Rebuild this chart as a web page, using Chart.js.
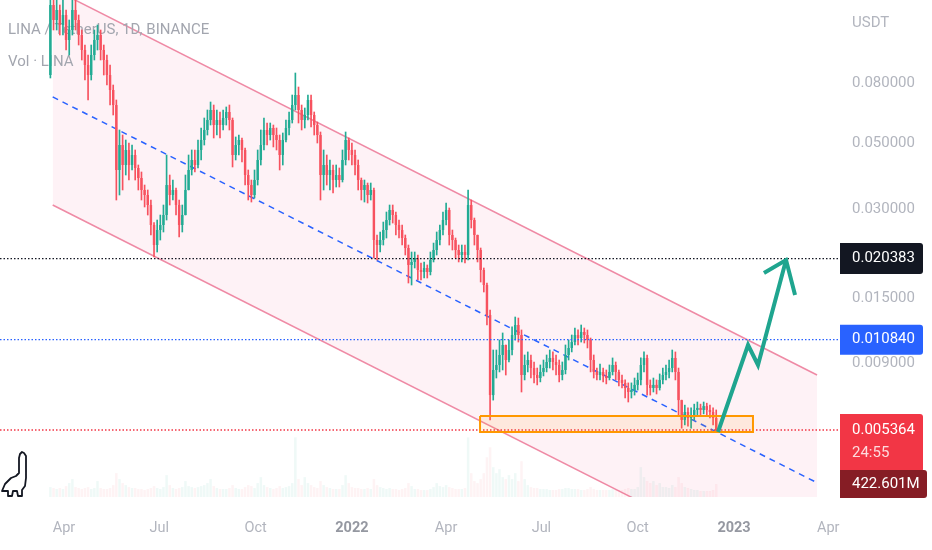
<!DOCTYPE html>
<html><head><meta charset="utf-8">
<script src="https://cdn.jsdelivr.net/npm/chart.js@4.4.1/dist/chart.umd.min.js"></script>
<style>html,body{margin:0;padding:0;background:#fff;}#wrap{width:932px;height:550px;position:relative;}</style>
</head><body><div id="wrap"><canvas id="c"></canvas></div>
<script>
// ---- DATA (LINA / TetherUS, 3-day candles) ----
const candleStartDay = 77;   // days since 2021-01-01
const candleStepDays = 3;
const opens = [
0.08513,0.14683,0.13066,0.14124,0.12566,0.13583,0.11182,0.12087,0.14124,0.13066,
0.11624,0.10344,0.09202,0.08513,0.09948,0.11182,0.11624,0.10344,0.09569,0.08513,
0.07575,0.06739,0.04063,0.04935,0.04224,0.04748,0.04224,0.04566,0.04127,0.03817,
0.03477,0.03344,0.03093,0.02647,0.02265,0.02546,0.02647,0.02861,0.03614,0.03344,
0.03477,0.03093,0.02647,0.02861,0.03477,0.04063,0.04392,0.04224,0.04748,0.05132,
0.05548,0.05997,0.06483,0.05767,0.05997,0.05767,0.06091,0.06383,0.05997,0.04566,
0.04935,0.05132,0.04748,0.03907,0.03614,0.03344,0.03758,0.04392,0.04935,0.05548,
0.05335,0.05635,0.05335,0.05132,0.04566,0.05132,0.05635,0.05997,0.06739,0.07285,
0.06483,0.05997,0.06235,0.07008,0.06235,0.05767,0.05335,0.03907,0.04224,0.03907,
0.04063,0.03758,0.03907,0.03758,0.04392,0.05132,0.04748,0.04566,0.04224,0.03758,
0.03477,0.03614,0.03344,0.03477,0.02355,0.02265,0.02355,0.02546,0.02752,0.02975,
0.02861,0.02647,0.02546,0.02392,0.02213,0.01939,0.01985,0.02048,0.01865,0.01836,
0.01894,0.01836,0.02016,0.02179,0.02355,0.02546,0.02752,0.02975,0.02449,0.02355,
0.02179,0.02096,0.02145,0.02096,0.03093,0.02752,0.02449,0.02179,0.01865,0.01659,
0.01314,0.00704,0.00856,0.00890,0.00962,0.01040,0.00925,0.01000,0.01124,0.01215,
0.01124,0.00823,0.00890,0.00925,0.00869,0.00823,0.00804,0.00843,0.00869,0.00911,
0.00940,0.00911,0.00890,0.00823,0.00856,0.00962,0.01016,0.01064,0.01124,0.01098,
0.01151,0.01124,0.01081,0.00925,0.00843,0.00823,0.00843,0.00817,0.00804,0.00843,
0.00890,0.00843,0.00792,0.00774,0.00744,0.00721,0.00732,0.00762,0.00792,0.00890,
0.00940,0.00762,0.00744,0.00762,0.00744,0.00792,0.00823,0.00843,0.00869,0.00940,
0.00843,0.00677,0.00580,0.00617,0.00589,0.00603,0.00627,0.00637,0.00627,0.00646,
0.00627,0.00617,0.00589];
const highs = [
0.17840,0.16505,0.15876,0.14683,0.15268,0.14124,0.13066,0.16505,0.15268,0.13583,
0.12087,0.10754,0.09948,0.10754,0.12087,0.12566,0.12087,0.10754,0.09948,0.09202,
0.07875,0.07008,0.05548,0.05335,0.05132,0.05013,0.04935,0.04748,0.04224,0.04000,
0.03614,0.03477,0.03216,0.02700,0.02752,0.02861,0.03093,0.04566,0.03907,0.03758,
0.03532,0.03216,0.03093,0.03907,0.04566,0.04748,0.04748,0.05132,0.05635,0.06091,
0.06483,0.06899,0.06739,0.06483,0.06383,0.06483,0.06637,0.06739,0.06091,0.05254,
0.05335,0.05213,0.04823,0.04063,0.03758,0.04063,0.04748,0.05548,0.06091,0.05858,
0.05858,0.05767,0.05635,0.05335,0.05420,0.05997,0.06383,0.07285,0.08647,0.07753,
0.06739,0.06585,0.07285,0.07285,0.06383,0.05904,0.05462,0.04748,0.04566,0.04392,
0.04224,0.04224,0.04127,0.04748,0.05462,0.05213,0.05013,0.04748,0.04392,0.03817,
0.03758,0.03671,0.03671,0.03532,0.02449,0.02507,0.02709,0.02929,0.03093,0.03093,
0.02929,0.02752,0.02647,0.02449,0.02265,0.02145,0.02145,0.02096,0.01969,0.01985,
0.01939,0.02145,0.02300,0.02507,0.02647,0.02929,0.03142,0.03022,0.02546,0.02392,
0.02265,0.02265,0.02265,0.03477,0.03216,0.02795,0.02449,0.02213,0.01894,0.01685,
0.01366,0.01000,0.01000,0.01081,0.01142,0.01040,0.01081,0.01197,0.01293,0.01283,
0.01169,0.00962,0.00985,0.00962,0.00911,0.00869,0.00890,0.00925,0.00962,0.01000,
0.00985,0.00962,0.00925,0.00911,0.01040,0.01081,0.01124,0.01187,0.01169,0.01215,
0.01187,0.01169,0.01098,0.00962,0.00869,0.00897,0.00869,0.00856,0.00890,0.00940,
0.00911,0.00856,0.00823,0.00792,0.00774,0.00774,0.00804,0.00836,0.00940,0.00985,
0.00962,0.00792,0.00804,0.00792,0.00830,0.00869,0.00890,0.00925,0.01000,0.00985,
0.00869,0.00677,0.00651,0.00637,0.00637,0.00656,0.00667,0.00656,0.00667,0.00661,
0.00651,0.00637,0.00627];
const lows = [
0.08318,0.12087,0.12087,0.11624,0.11624,0.10344,0.09948,0.11624,0.12087,0.10754,
0.09569,0.08189,0.07008,0.08189,0.09569,0.10344,0.09569,0.08513,0.07875,0.06739,
0.06235,0.03216,0.03344,0.03477,0.03907,0.03758,0.04063,0.03758,0.03477,0.03216,
0.03046,0.02861,0.02449,0.02064,0.02145,0.02355,0.02507,0.02752,0.03093,0.03216,
0.02861,0.02411,0.02507,0.02861,0.03477,0.03907,0.04000,0.04127,0.04392,0.04935,
0.05335,0.05767,0.05213,0.05335,0.05213,0.05548,0.05767,0.05548,0.04159,0.04392,
0.04566,0.04324,0.03614,0.03216,0.03166,0.03267,0.03614,0.04224,0.04748,0.04935,
0.05132,0.04861,0.04748,0.04063,0.04224,0.05052,0.05335,0.05858,0.06483,0.05858,
0.05548,0.05635,0.05997,0.05680,0.05335,0.05013,0.03216,0.03477,0.03614,0.03477,
0.03396,0.03559,0.03559,0.03700,0.04224,0.04392,0.04224,0.03907,0.03477,0.03216,
0.03166,0.03142,0.03216,0.02048,0.02016,0.02145,0.02265,0.02392,0.02647,0.02688,
0.02449,0.02392,0.02265,0.02096,0.01685,0.01659,0.01894,0.01725,0.01725,0.01752,
0.01752,0.01794,0.01985,0.02096,0.02265,0.02449,0.02647,0.02265,0.02179,0.02048,
0.01985,0.01985,0.01969,0.02016,0.02586,0.02265,0.01985,0.01698,0.01571,0.01215,
0.00580,0.00677,0.00804,0.00843,0.00856,0.00823,0.00911,0.00962,0.01081,0.01064,
0.00721,0.00792,0.00843,0.00804,0.00774,0.00762,0.00780,0.00817,0.00843,0.00869,
0.00856,0.00823,0.00780,0.00792,0.00830,0.00925,0.00985,0.01040,0.01040,0.01064,
0.01056,0.01016,0.00843,0.00804,0.00792,0.00792,0.00780,0.00768,0.00792,0.00823,
0.00792,0.00756,0.00744,0.00688,0.00667,0.00688,0.00704,0.00732,0.00762,0.00843,
0.00704,0.00704,0.00721,0.00710,0.00732,0.00768,0.00792,0.00804,0.00843,0.00792,
0.00603,0.00544,0.00558,0.00553,0.00544,0.00580,0.00603,0.00598,0.00608,0.00598,
0.00589,0.00558,0.00528];
const closes = [
0.14683,0.13066,0.14124,0.12566,0.13583,0.11182,0.12087,0.14124,0.13066,0.11624,
0.10344,0.09202,0.08513,0.09948,0.11182,0.11624,0.10344,0.09569,0.08513,0.07575,
0.06739,0.04063,0.04935,0.04224,0.04748,0.04224,0.04566,0.04127,0.03817,0.03477,
0.03344,0.03093,0.02647,0.02265,0.02546,0.02647,0.02861,0.03614,0.03344,0.03477,
0.03093,0.02647,0.02861,0.03477,0.04063,0.04392,0.04224,0.04748,0.05132,0.05548,
0.05997,0.06483,0.05767,0.05997,0.05767,0.06091,0.06383,0.05997,0.04566,0.04935,
0.05132,0.04748,0.03907,0.03614,0.03344,0.03758,0.04392,0.04935,0.05548,0.05335,
0.05635,0.05335,0.05132,0.04566,0.05132,0.05635,0.05997,0.06739,0.07285,0.06483,
0.05997,0.06235,0.07008,0.06235,0.05767,0.05335,0.03907,0.04224,0.03907,0.04063,
0.03758,0.03907,0.03758,0.04392,0.05132,0.04748,0.04566,0.04224,0.03758,0.03477,
0.03614,0.03344,0.03477,0.02355,0.02265,0.02355,0.02546,0.02752,0.02975,0.02861,
0.02647,0.02546,0.02392,0.02213,0.01939,0.01985,0.02048,0.01865,0.01836,0.01894,
0.01836,0.02016,0.02179,0.02355,0.02546,0.02752,0.02975,0.02449,0.02355,0.02179,
0.02096,0.02145,0.02096,0.03093,0.02752,0.02449,0.02179,0.01865,0.01659,0.01314,
0.00704,0.00856,0.00890,0.00962,0.01040,0.00925,0.01000,0.01124,0.01215,0.01124,
0.00823,0.00890,0.00925,0.00869,0.00823,0.00804,0.00843,0.00869,0.00911,0.00940,
0.00911,0.00890,0.00823,0.00856,0.00962,0.01016,0.01064,0.01124,0.01098,0.01151,
0.01124,0.01081,0.00925,0.00843,0.00823,0.00843,0.00817,0.00804,0.00843,0.00890,
0.00843,0.00792,0.00774,0.00744,0.00721,0.00732,0.00762,0.00792,0.00890,0.00940,
0.00762,0.00744,0.00762,0.00744,0.00792,0.00823,0.00843,0.00869,0.00940,0.00843,
0.00677,0.00580,0.00617,0.00589,0.00603,0.00627,0.00637,0.00627,0.00646,0.00627,
0.00617,0.00589,0.005364];
const volumes = [ // millions of LINA per candle
500,450,400,450,400,550,700,900,500,450, 400,450,500,400,450,800,450,400,400,450,
600,1200,900,700,600,500,450,450,400,400, 350,400,450,550,450,400,500,1100,600,450,
400,450,500,800,550,500,450,500,550,600, 700,900,550,450,400,400,400,450,600,450,
400,400,500,600,550,450,700,1000,600,500, 450,400,450,550,450,500,550,700,3000,900,
600,1000,700,600,500,450,800,600,500,450, 400,400,400,600,1100,700,500,450,450,400,
400,450,400,900,600,500,450,400,450,400, 400,350,400,450,700,550,400,400,350,350,
350,400,500,700,550,500,600,500,450,400, 400,400,450,3000,1200,800,700,900,1200,2000,
2500,1500,1200,1400,1000,900,1100,900,1200,800, 1800,900,600,500,450,450,400,400,400,350,
350,350,400,400,450,450,400,400,400,350, 350,400,500,400,350,350,350,350,350,400,
350,350,350,400,450,400,400,500,1500,1000, 800,700,800,600,700,500,500,450,600,500,
1000,700,500,450,400,350,350,300,300,300, 300,350,650];

const xTickDays   = [90, 181, 273, 365, 455, 546, 638, 730, 820];
const xTickLabels = ['Apr', 'Jul', 'Oct', '2022', 'Apr', 'Jul', 'Oct', '2023', 'Apr'];
const yTickValues = [0.08, 0.05, 0.03, 0.015, 0.009];
const axisDays    = [28.87, 831.23];
const axisPrices  = [0.003183, 0.15268];

const channelDays   = [79.2, 809.3];
const channelUpper  = [0.16675, 0.008232];
const channelMiddle = [0.07179, 0.003558];
const channelLower  = [0.030933, 0.0015305];
const levelPrices   = [0.020383, 0.010840, 0.005364];
const zoneDays      = [487.4, 748.1];
const zonePrices    = [0.005981, 0.005281];
const arrowDays     = [714.7, 743.4, 752.9, 779.7];
const arrowPrices   = [0.005281, 0.010398, 0.008898, 0.020158];
const arrowHeadDays   = [758.6, 779.7, 788.3];
const arrowHeadPrices = [0.018215, 0.020158, 0.015347];

const titleText   = 'LINA / TetherUS, 1D, BINANCE';
const volText     = 'Vol · LINA';
const currencyText = 'USDT';
const countdownText = '24:55';
const lastVolumeText = '422.601M';

// ---- CHART ----
const FONT = "Roboto, 'Liberation Sans', sans-serif";
Chart.defaults.font.family = FONT;
const GREEN = '#22ab94', RED = '#f7525f';
const isUp = closes.map((c, i) => c >= opens[i]);
const candleDays = closes.map((_, i) => candleStartDay + i * candleStepDays);
const pts = (xs, ys) => xs.map((x, i) => ({x: x, y: ys[i]}));

const lineDs = (label, data, color, width, extra) => Object.assign({
  type: 'line', label, data, borderColor: color, borderWidth: width,
  pointRadius: 0, pointHoverRadius: 0, tension: 0, fill: false
}, extra || {});

const datasets = [
  lineDs('channel upper', pts(channelDays, channelUpper), '#ef8aa5', 1.5,
         {fill: '+1', backgroundColor: 'rgba(233,30,99,0.06)', order: 30}),
  lineDs('channel lower', pts(channelDays, channelLower), '#ef8aa5', 1.5, {order: 29}),
  lineDs('channel middle', pts(channelDays, channelMiddle), '#2962ff', 1.5, {borderDash: [6, 5], order: 28}),
  { type: 'bar', label: 'volume', yAxisID: 'yv', order: 20, grouped: false,
    data: candleDays.map((d, i) => ({x: d, y: volumes[i]})),
    backgroundColor: isUp.map(u => u ? 'rgba(34,171,148,0.07)' : 'rgba(247,82,95,0.07)'),
    categoryPercentage: 1, barPercentage: 0.8 },
  { type: 'bar', label: 'wicks', order: 12, grouped: false,
    data: candleDays.map((d, i) => ({x: d, y: [lows[i], highs[i]]})),
    backgroundColor: isUp.map(u => u ? GREEN : RED),
    barThickness: 1, maxBarThickness: 1 },
  { type: 'bar', label: 'bodies', order: 11, grouped: false, minBarLength: 1,
    data: candleDays.map((d, i) => ({x: d, y: [opens[i], closes[i]]})),
    backgroundColor: isUp.map(u => u ? GREEN : RED),
    categoryPercentage: 1, barPercentage: 0.78 },
  lineDs('level 1', pts(axisDays, [levelPrices[0], levelPrices[0]]), '#131722', 1.3, {borderDash: [1.5, 2], order: 6}),
  lineDs('level 2', pts(axisDays, [levelPrices[1], levelPrices[1]]), '#2962ff', 1.3, {borderDash: [1.5, 2], order: 6}),
  lineDs('level 3', pts(axisDays, [levelPrices[2], levelPrices[2]]), '#f23645', 1.3, {borderDash: [1.5, 2], order: 6}),
  lineDs('zone top', pts(zoneDays, [zonePrices[0], zonePrices[0]]), 'rgba(0,0,0,0)', 0,
         {fill: '+1', backgroundColor: 'rgba(255,152,0,0.10)', order: 5}),
  lineDs('zone bottom', pts(zoneDays, [zonePrices[1], zonePrices[1]]), 'rgba(0,0,0,0)', 0, {order: 5}),
  lineDs('zone outline', pts([zoneDays[0], zoneDays[1], zoneDays[1], zoneDays[0], zoneDays[0]],
         [zonePrices[0], zonePrices[0], zonePrices[1], zonePrices[1], zonePrices[0]]), '#ff9800', 2, {order: 4}),
  lineDs('arrow', pts(arrowDays, arrowPrices), '#1fa58f', 4, {order: 2, borderJoinStyle: 'miter'}),
  lineDs('arrow head', pts(arrowHeadDays, arrowHeadPrices), '#1fa58f', 4, {order: 1, borderJoinStyle: 'miter'})
];

function rrect(ctx, x, y, w, h, r) {
  ctx.beginPath();
  ctx.moveTo(x, y);
  ctx.lineTo(x + w - r, y);
  ctx.quadraticCurveTo(x + w, y, x + w, y + r);
  ctx.lineTo(x + w, y + h - r);
  ctx.quadraticCurveTo(x + w, y + h, x + w - r, y + h);
  ctx.lineTo(x, y + h);
  ctx.closePath();
}

const overlay = {
  id: 'overlay',
  afterDatasetDraw(chart, args) {
    if (args.index !== 2) return;
    const ctx = chart.ctx;
    ctx.save();
    ctx.font = '15px ' + FONT;
    ctx.fillStyle = '#a3a6af';
    ctx.textBaseline = 'middle';
    ctx.textAlign = 'left';
    ctx.fillText(titleText, 8, 30);
    ctx.fillText(volText, 8, 62);
    ctx.restore();
  },
  afterDraw(chart) {
    const ctx = chart.ctx;
    const ys = chart.scales.y, yv = chart.scales.yv;
    const x0 = chart.chartArea.right;
    ctx.save();
    ctx.font = '15px ' + FONT;
    ctx.textBaseline = 'middle';
    ctx.textAlign = 'left';
    ctx.fillStyle = '#b2b5be';
    ctx.fillText(currencyText, x0 + 12, 23);
    const tag = (cy, h, color, top) => {
      ctx.fillStyle = color;
      rrect(ctx, x0, top !== undefined ? top : cy - h / 2, 83, h, 3);
      ctx.fill();
    };
    let cy = ys.getPixelForValue(levelPrices[0]);
    tag(cy, 31, '#131722');
    ctx.fillStyle = '#ffffff'; ctx.fillText(levelPrices[0].toFixed(6), x0 + 12, cy);
    cy = ys.getPixelForValue(levelPrices[1]);
    tag(cy, 30, '#2962ff');
    ctx.fillStyle = '#ffffff'; ctx.fillText(levelPrices[1].toFixed(6), x0 + 12, cy);
    cy = ys.getPixelForValue(levelPrices[2]);
    tag(cy, 58, '#f23645', cy - 16);
    ctx.fillStyle = '#ffffff'; ctx.fillText(levelPrices[2].toFixed(6), x0 + 12, cy);
    ctx.fillStyle = 'rgba(255,255,255,0.82)'; ctx.fillText(countdownText, x0 + 12, cy + 23);
    const vy = yv.getPixelForValue(volumes[volumes.length - 1]);
    ctx.fillStyle = '#861d25';
    rrect(ctx, x0, vy - 14, 87, 28, 3); ctx.fill();
    ctx.fillStyle = '#ffffff'; ctx.fillText(lastVolumeText, x0 + 12, vy);
    // logo
    ctx.strokeStyle = '#131722'; ctx.lineWidth = 1.8; ctx.lineJoin = 'round';
    ctx.beginPath();
    const P = [[19,473],[19,458],[20,454],[22,452],[24,453],[26,456],[26,478],[25,486],[22,490],[22,496],[18,496],[17,491],[13,491],[12,496],[8,496],[8,491],[2,491],[5,484],[11,478],[16,476]];
    P.forEach((p, i) => i ? ctx.lineTo(p[0], p[1]) : ctx.moveTo(p[0], p[1]));
    ctx.closePath(); ctx.stroke();
    ctx.restore();
  }
};

const noPad = s => { s.paddingTop = 0; s.paddingBottom = 0; s.paddingLeft = 0; s.paddingRight = 0; };

new Chart(document.getElementById('c'), {
  type: 'bar',
  data: { datasets },
  options: {
    responsive: true, maintainAspectRatio: false, animation: false, events: [],
    layout: { padding: 0 },
    plugins: { legend: {display: false}, tooltip: {enabled: false} },
    scales: {
      x: {
        type: 'linear', min: axisDays[0], max: axisDays[1], offset: false,
        grid: {display: false, drawTicks: false}, border: {display: false},
        afterBuildTicks: s => { s.ticks = xTickDays.map(v => ({value: v})); },
        afterFit: s => { s.height = 53; noPad(s); },
        ticks: {
          autoSkip: false, maxRotation: 0, padding: 23,
          callback: (v, i) => xTickLabels[i],
          font: c => ({family: FONT, size: 14.5, weight: (xTickLabels[c.index] || '').length === 4 ? 'bold' : 'normal'}),
          color: c => (xTickLabels[c.index] || '').length === 4 ? '#9598a1' : '#b2b5be'
        }
      },
      y: {
        type: 'logarithmic', position: 'right', min: axisPrices[0], max: axisPrices[1],
        grid: {display: false, drawTicks: false}, border: {display: false},
        afterBuildTicks: s => { s.ticks = yTickValues.map(v => ({value: v})); },
        afterFit: s => { s.width = 92; noPad(s); },
        ticks: { autoSkip: false, padding: 12, crossAlign: 'near',
          callback: v => Number(v).toFixed(6), font: {family: FONT, size: 15}, color: '#b2b5be' }
      },
      yv: { type: 'linear', display: false, min: 0, max: 25000 }
    }
  },
  plugins: [overlay]
});
</script>
</body></html>
